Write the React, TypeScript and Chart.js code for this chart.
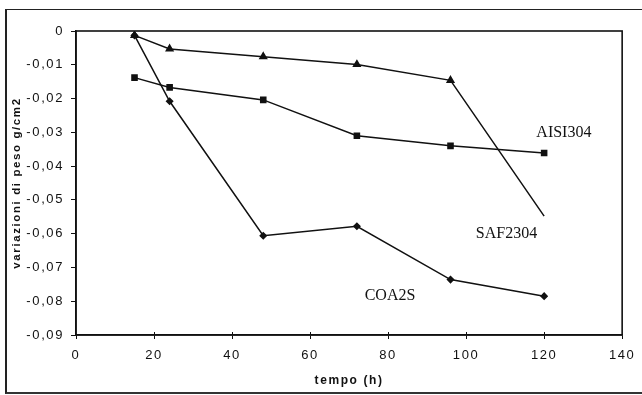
import React, { useEffect, useRef } from "react";
import { Chart, registerables } from "chart.js";

Chart.register(...registerables);

const hours = [15, 24, 48, 72, 96, 120];
const saf2304 = [-0.0013, -0.0053, -0.0076, -0.0099, -0.0146, -0.0548];
const aisi304 = [-0.0138, -0.0167, -0.0204, -0.031, -0.034, -0.0361];
const coa2s = [-0.0013, -0.0208, -0.0606, -0.0578, -0.0736, -0.0785];
const seriesNames = ["SAF2304", "AISI304", "COA2S"];
const labelPositions = [
  { x: 102.5, y: -0.06 },
  { x: 118, y: -0.03 },
  { x: 74, y: -0.0785 },
];
const xTitle = "tempo (h)";
const yTitle = "variazioni di peso g/cm2";

const INK = "#111111";

export default function App() {
  const ref = useRef<HTMLCanvasElement | null>(null);

  useEffect(() => {
    const canvas = ref.current;
    if (!canvas) return;

    const framePlugin = {
      id: "framePlugin",
      beforeDraw(chart: any) {
        (chart.ctx as any).letterSpacing = "1.6px";
      },
      afterDraw(chart: any) {
        const { ctx, chartArea } = chart;
        const xs = chart.scales.x;
        const ys = chart.scales.y;
        ctx.save();
        (ctx as any).letterSpacing = "0px";
        ctx.strokeStyle = INK;
        ctx.lineWidth = 1.6;
        ctx.strokeRect(chartArea.left, chartArea.top, chartArea.right - chartArea.left, chartArea.bottom - chartArea.top);
        ctx.lineWidth = 1;
        for (let v = 20; v < 140; v += 20) {
          const px = Math.round(xs.getPixelForValue(v)) + 0.5;
          ctx.beginPath();
          ctx.moveTo(px, chartArea.bottom - 3);
          ctx.lineTo(px, chartArea.bottom);
          ctx.stroke();
        }
        ctx.fillStyle = INK;
        ctx.font = '16px "Liberation Serif", "Times New Roman", serif';
        ctx.textBaseline = "middle";
        ctx.textAlign = "left";
        seriesNames.forEach((name, i) => {
          const p = labelPositions[i];
          ctx.fillText(name, xs.getPixelForValue(p.x), ys.getPixelForValue(p.y));
        });
        ctx.restore();
      },
    };

    const lineStyle = {
      borderColor: INK,
      backgroundColor: INK,
      borderWidth: 1.5,
      tension: 0,
      fill: false,
    };

    const chart = new Chart(canvas, {
      type: "line",
      data: {
        datasets: [
          {
            ...lineStyle,
            label: seriesNames[0],
            data: hours.map((h, i) => ({ x: h, y: saf2304[i] })),
            pointStyle: "triangle",
            pointRadius: hours.map((_, i) => (i === hours.length - 1 ? 0 : 3.8)),
          },
          {
            ...lineStyle,
            label: seriesNames[1],
            data: hours.map((h, i) => ({ x: h, y: aisi304[i] })),
            pointStyle: "rect",
            pointRadius: 3.6,
          },
          {
            ...lineStyle,
            label: seriesNames[2],
            data: hours.map((h, i) => ({ x: h, y: coa2s[i] })),
            pointStyle: "rectRot",
            pointRadius: 3,
          },
        ],
      },
      options: {
        responsive: false,
        animation: false,
        layout: { padding: { left: 0, top: 31, right: 19, bottom: 0 } },
        plugins: { legend: { display: false }, tooltip: { enabled: false } },
        scales: {
          x: {
            type: "linear",
            min: 0,
            max: 140,
            afterFit(scale: any) {
              scale.height = 60;
            },
            ticks: {
              stepSize: 20,
              color: INK,
              padding: 9,
              maxRotation: 0,
              font: { family: '"Liberation Sans", Arial, sans-serif', size: 13 },
            },
            grid: { drawOnChartArea: false, drawTicks: true, tickLength: 4, color: INK },
            border: { display: true, color: INK, width: 1.6 },
            title: {
              display: true,
              text: xTitle,
              color: INK,
              padding: { top: 4, bottom: 7 },
              font: { family: '"Liberation Sans", Arial, sans-serif', size: 12, weight: "bold" },
            },
          },
          y: {
            type: "linear",
            min: -0.09,
            max: 0,
            afterFit(scale: any) {
              scale.width = 76;
            },
            ticks: {
              stepSize: 0.01,
              color: INK,
              padding: 7,
              font: { family: '"Liberation Sans", Arial, sans-serif', size: 13 },
              callback: (v: any) => {
                const n = Number(v);
                if (Math.abs(n) < 1e-9) return "0";
                return n.toFixed(2).replace(".", ",");
              },
            },
            grid: { drawOnChartArea: false, drawTicks: true, tickLength: 5, color: INK },
            border: { display: true, color: INK, width: 1.6 },
            title: {
              display: true,
              text: yTitle,
              color: INK,
              padding: { top: 10, bottom: 0 },
              font: { family: '"Liberation Sans", Arial, sans-serif', size: 11.5, weight: "bold" },
            },
          },
        },
      },
      plugins: [framePlugin],
    });

    return () => chart.destroy();
  }, []);

  return (
    <div style={{ position: "fixed", left: 0, top: 0, width: 642, height: 395, background: "#fff" }}>
      <canvas ref={ref} width={642} height={395} style={{ position: "absolute", left: 0, top: 0 }} />
      <div
        style={{
          position: "absolute",
          left: 5,
          top: 9,
          width: 637,
          height: 382,
          borderLeft: "2px solid #222",
          borderTop: "1.5px solid #222",
          borderBottom: "2px solid #333",
          pointerEvents: "none",
        }}
      />
    </div>
  );
}
